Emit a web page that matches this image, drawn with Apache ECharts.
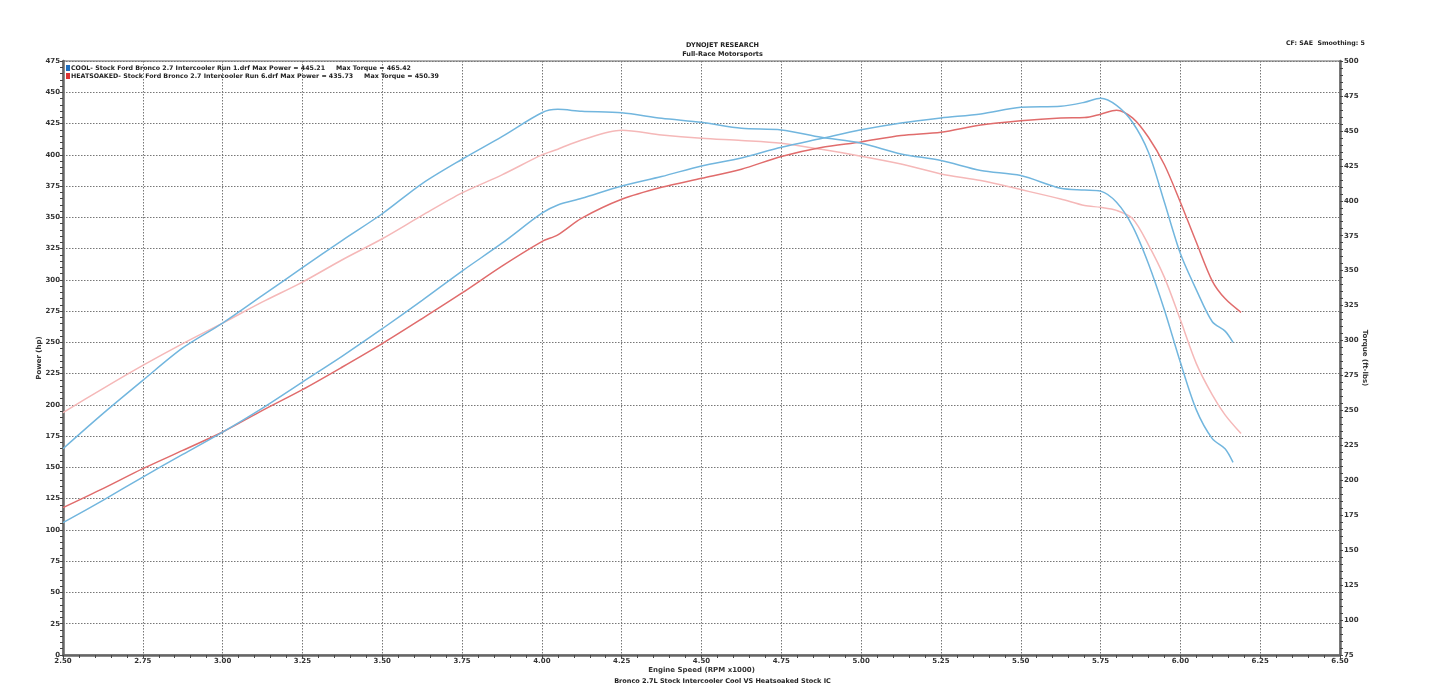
<!DOCTYPE html>
<html>
<head>
<meta charset="utf-8">
<script src="https://cdn.jsdelivr.net/npm/echarts@6/dist/echarts.min.js"></script>
<style>
html,body{margin:0;padding:0;background:#fff;}
#chart{width:1445px;height:693px;}
</style>
</head>
<body>
<div id="chart"></div>
<script>
// RPM x1000 sample points
const rpmCool = [2.50,2.625,2.75,2.875,3.00,3.125,3.25,3.375,3.50,3.625,3.75,3.875,4.00,4.05,4.125,4.25,4.375,4.50,4.625,4.75,4.875,5.00,5.125,5.25,5.375,5.50,5.625,5.70,5.75,5.80,5.85,5.90,5.95,6.00,6.05,6.10,6.14,6.165];
const rpmHeat = [2.50,2.625,2.75,2.875,3.00,3.125,3.25,3.375,3.50,3.625,3.75,3.875,4.00,4.05,4.125,4.25,4.375,4.50,4.625,4.75,4.875,5.00,5.125,5.25,5.375,5.50,5.625,5.70,5.75,5.80,5.85,5.90,5.95,6.00,6.05,6.10,6.14,6.19];

// Power (hp)
const coolPower = [105.8,123.7,142.3,160.4,178.3,197.5,218.3,239.0,260.9,283.6,307.0,329.3,353.3,359.9,365.2,375.1,382.6,391.1,397.5,406.0,413.0,420.0,425.5,429.5,432.7,438.0,438.8,442.0,445.2,439.5,426.0,402.0,362.0,321.0,292.0,266.5,259.0,250.0];
const heatPower = [117.8,133.0,149.0,163.6,178.3,195.6,212.2,230.3,249.0,269.0,289.5,311.0,330.6,336.0,349.3,364.4,374.0,381.2,388.5,398.6,405.8,410.3,415.4,418.0,423.9,427.3,429.5,429.8,432.5,435.7,429.5,414.0,392.0,362.0,330.0,299.0,285.0,274.0];

// Torque (ft-lbs)
const coolTorque = [222.6,247.7,271.5,294.7,312.5,332.3,352.1,371.7,390.7,412.3,429.7,445.9,463.0,465.4,464.0,463.0,459.0,456.1,451.9,450.7,445.4,441.2,433.5,428.8,421.6,418.0,408.9,407.7,406.9,398.9,381.9,355.0,321.9,284.4,250.4,229.8,222.6,212.8];
const heatTorque = [248.4,265.6,282.2,297.8,312.5,327.6,341.8,357.8,372.8,389.5,405.6,418.5,432.8,436.9,443.5,450.4,447.1,444.7,443.1,441.1,436.8,431.9,426.3,419.2,414.5,408.0,401.3,396.6,395.3,393.1,387.3,368.5,345.2,314.8,283.5,261.1,246.8,233.4];

const coolName = 'COOL- Stock Ford Bronco 2.7 Intercooler Run 1.drf Max Power = 445.21     Max Torque = 465.42';
const heatName = 'HEATSOAKED- Stock Ford Bronco 2.7 Intercooler Run 6.drf Max Power = 435.73     Max Torque = 450.39';
const titleLines = ['DYNOJET RESEARCH', 'Full-Race Motorsports'];
const cfText = 'CF: SAE  Smoothing: 5';
const subTitle = 'Bronco 2.7L Stock Intercooler Cool VS Heatsoaked Stock IC';
const xName = 'Engine Speed (RPM x1000)';
const yLeftName = 'Power (hp)';
const yRightName = 'Torque (ft-lbs)';

const FONT = 'DejaVu Sans';
const zip = (xs, ys) => xs.map((x, i) => [x, ys[i]]);

const chart = echarts.init(document.getElementById('chart'));
const axisLineStyle = { color: '#666', width: 2.5 };
const splitStyle = { show: true, lineStyle: { color: '#777', width: 1, type: [1.5, 1.5] } };
const labelStyle = { fontFamily: FONT, fontSize: 7, fontWeight: 'bold', color: '#333' };

chart.setOption({
  animation: false,
  backgroundColor: '#fff',
  textStyle: { fontFamily: FONT },
  grid: { left: 63, right: 105, top: 61, bottom: 38, show: true, borderColor: '#999', borderWidth: 1.5 },
  legend: {
    orient: 'vertical', left: 61, top: 60, itemWidth: 4, itemHeight: 6, itemGap: 2,
    selectedMode: false,
    textStyle: { fontFamily: FONT, fontSize: 6.3, fontWeight: 'bold', color: '#222', padding: [0, 0, 0, -4] },
    data: [
      { name: coolName, icon: 'rect', itemStyle: { color: '#1f6fc0' } },
      { name: heatName, icon: 'rect', itemStyle: { color: '#d33' } }
    ]
  },
  graphic: [
    { type: 'text', left: 'center', top: 41.5, style: { text: titleLines[0], font: 'bold 6.5px "DejaVu Sans"', fill: '#222' } },
    { type: 'text', left: 'center', top: 50.5, style: { text: titleLines[1], font: 'bold 6.5px "DejaVu Sans"', fill: '#222' } },
    { type: 'text', left: 1286, top: 40.5, style: { text: cfText, font: 'bold 6.3px "DejaVu Sans"', fill: '#222' } },
    { type: 'text', left: 'center', top: 677.5, style: { text: subTitle, font: 'bold 6.5px "DejaVu Sans"', fill: '#222' } }
  ],
  xAxis: {
    type: 'value', min: 2.5, max: 6.5, interval: 0.25,
    name: xName, nameLocation: 'middle', nameGap: 12, nameMoveOverlap: false,
    nameTextStyle: labelStyle,
    axisLine: { onZero: false, lineStyle: axisLineStyle },
    axisTick: { show: true, length: 3, lineStyle: { color: '#444' } },
    minorTick: { show: true, splitNumber: 5, length: 3, lineStyle: { color: '#444' } },
    axisLabel: { ...labelStyle, margin: 3, formatter: v => v.toFixed(2) },
    splitLine: splitStyle
  },
  yAxis: [
    {
      type: 'value', min: 0, max: 475, interval: 25, position: 'left',
      name: yLeftName, nameLocation: 'middle', nameGap: 20, nameRotate: 90, nameMoveOverlap: false,
      nameTextStyle: labelStyle,
      axisLine: { show: true, lineStyle: axisLineStyle },
      axisTick: { show: true, length: 3, lineStyle: { color: '#444' } },
      minorTick: { show: true, splitNumber: 5, length: 3, lineStyle: { color: '#444' } },
      axisLabel: { ...labelStyle, margin: 3 },
      splitLine: splitStyle
    },
    {
      type: 'value', min: 75, max: 500, interval: 25, position: 'right',
      name: yRightName, nameLocation: 'middle', nameGap: 21, nameRotate: -90, nameMoveOverlap: false,
      nameTextStyle: labelStyle,
      axisLine: { show: true, lineStyle: axisLineStyle },
      axisTick: { show: true, length: 3, lineStyle: { color: '#444' } },
      minorTick: { show: true, splitNumber: 5, length: 3, lineStyle: { color: '#444' } },
      axisLabel: { ...labelStyle, margin: 4 },
      splitLine: { show: false }
    }
  ],
  series: [
    { name: coolName, type: 'line', yAxisIndex: 0, data: zip(rpmCool, coolPower), showSymbol: false, smooth: 0.3, lineStyle: { color: '#72b6de', width: 1.5 }, itemStyle: { color: '#1f6fc0' }, z: 4 },
    { name: heatName, type: 'line', yAxisIndex: 0, data: zip(rpmHeat, heatPower), showSymbol: false, smooth: 0.3, lineStyle: { color: '#e06c6c', width: 1.5 }, itemStyle: { color: '#d33' }, z: 3 },
    { name: 'COOL Torque', type: 'line', yAxisIndex: 1, data: zip(rpmCool, coolTorque), showSymbol: false, smooth: 0.3, lineStyle: { color: '#72b6de', width: 1.5 }, z: 4 },
    { name: 'HEATSOAKED Torque', type: 'line', yAxisIndex: 1, data: zip(rpmHeat, heatTorque), showSymbol: false, smooth: 0.3, lineStyle: { color: '#f5b8b8', width: 1.5 }, z: 2 }
  ]
});
</script>
</body>
</html>
